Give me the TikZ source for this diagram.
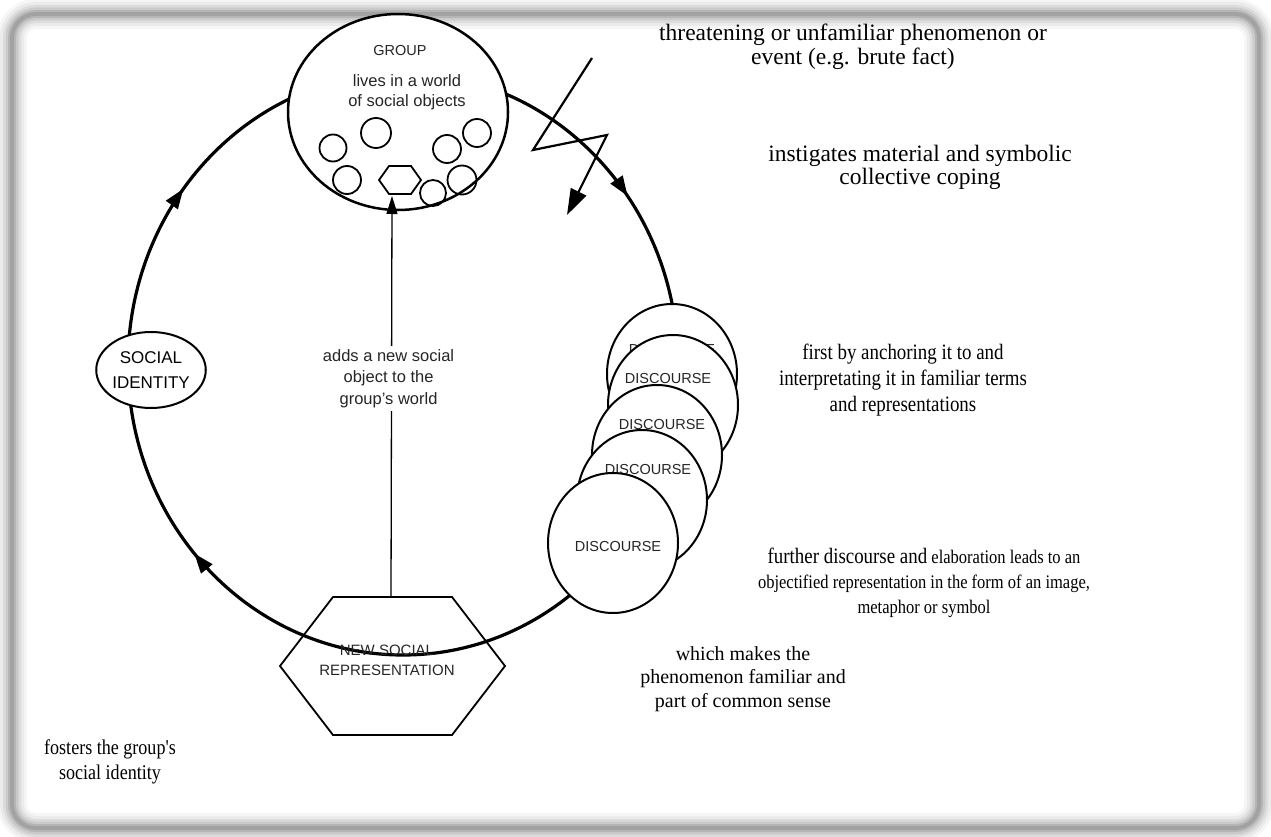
\documentclass[tikz,border=0pt]{standalone}
\usepackage{fontspec}
\setmainfont{Liberation Serif}
\setsansfont{Liberation Sans}
\newfontfamily\narrowserif[FakeStretch=0.86]{Liberation Serif}
\usetikzlibrary{shapes.geometric,arrows.meta,decorations.markings}

\tikzset{
  flowtip/.tip={Triangle[length=20pt,width=14pt]},
  bubble/.style={ellipse, draw, fill=white, line width=2pt, inner sep=0pt, align=center},
  objring/.style={circle, draw, line width=1.8pt, inner sep=0pt},
  tag/.style={align=center, inner sep=0pt, text=black!85, font=\sffamily\fontsize{16}{20}\selectfont},
  caption/.style={align=center, inner sep=0pt, font=\rmfamily\fontsize{23.5}{24}\selectfont},
  narrowcap/.style={align=center, inner sep=0pt, font=\narrowserif\fontsize{19.2}{25}\selectfont},
}

\begin{document}
\begin{tikzpicture}[x=1pt,y=-1pt]
\useasboundingbox (0,0) rectangle (1271,837);

% soft grey frame
\foreach \w/\o in {30/0.06,24/0.08,18/0.11,13/0.15,8/0.2,4/0.25}
  \draw[line width=\w pt, black!60, opacity=\o, rounded corners=24pt] (12,14) rectangle (1259,828);

% the cycle
\coordinate (hub) at (403,364);
\draw[line width=3.2pt, postaction={decorate}, decoration={markings,
    mark=at position 0.385 with {\arrow{flowtip}},
    mark=at position 0.605 with {\arrow{flowtip}},
    mark=at position 0.9 with {\arrow{flowtip}}}]
  (hub) ellipse [x radius=275, y radius=291];

% group and its world of social objects
\node[bubble, line width=2.5pt, minimum width=220pt, minimum height=196pt] (group) at (398,112) {};
\node[tag, font=\sffamily\fontsize{14.5}{16}\selectfont] (grouptitle) at (400,51) {GROUP};
\node[tag, font=\sffamily\fontsize{16.5}{20}\selectfont] (groupworld) at (407,92) {lives in a world\\of social objects};
\foreach \n/\x/\y/\d in {1/333/148/27, 2/376/133/30, 3/347/180/28, 4/447/149/28, 5/477/133/28, 6/462/180/29, 7/433/193/26}
  \node[objring, minimum size=\d pt] (obj\n) at (\x,\y) {};
\draw[line width=1.8pt] (379,180) -- (389,166) -- (411,166) -- (421,180) -- (411,194) -- (389,194) -- cycle;
\coordinate (newobj) at (392,196);

% social identity
\node[bubble, minimum width=102pt, minimum height=76pt, font=\sffamily\fontsize{17}{25}\selectfont] (identity) at (151,370) {SOCIAL\\IDENTITY};

% stacked discourse
\foreach \n/\cx/\cy/\tx/\ty in {1/672/374/672/350, 2/673/405/668/379, 3/657/455/662/425, 4/642/500/648/470, 5/613/543/618/547} {
  \node[bubble, minimum width=130pt, minimum height=140pt] (disc\n) at (\cx,\cy) {};
  \node[tag, font=\sffamily\fontsize{14.5}{16}\selectfont] (disctext\n) at (\tx,\ty) {DISCOURSE};
}

% new social representation
\draw[line width=1.8pt] (333,597) -- (452,597) -- (505,666) -- (452,735) -- (333,735) -- (280,666) -- cycle;
\coordinate (hexTop) at (391,597);
\node[tag, font=\sffamily\fontsize{15}{20}\selectfont] (newrep) at (387,660) {NEW SOCIAL\\REPRESENTATION};

% the new object joins the group's world
\draw[line width=1.3pt, -{Triangle[length=18pt,width=11pt]}] (hexTop) --
  node[tag, fill=white, inner sep=3pt, pos=0.545, xshift=-3pt, font=\sffamily\fontsize{16.5}{21.5}\selectfont] (addslabel) {adds a new social\\object to the\\group's world} (newobj);

% the disruptive event
\coordinate (boltA) at (592,58);
\coordinate (boltB) at (533,150);
\coordinate (boltC) at (607,135);
\coordinate (boltD) at (567,215);
\draw[line width=2.2pt, -{Triangle[length=26pt,width=17pt]}] (boltA) -- (boltB) -- (boltC) -- (boltD);

% commentary
\node[caption] (threat) at (853,47) {threatening or unfamiliar phenomenon or\\event (e.g. brute fact)};
\node[caption, font=\rmfamily\fontsize{23.5}{23}\selectfont] (coping) at (920,167) {instigates material and symbolic\\collective coping};
\node[narrowcap, font=\narrowserif\fontsize{22}{26}\selectfont] (anchor) at (903,380) {first by anchoring it to and\\interpretating it in familiar terms\\and representations};
\node[narrowcap] (objectify) at (924,583) {{\fontsize{22}{25}\selectfont further discourse and} elaboration leads to an\\objectified representation in the form of an image,\\metaphor or symbol};
\node[caption, font=\rmfamily\fontsize{20}{23.5}\selectfont] (familiar) at (743,679) {which makes the\\phenomenon familiar and\\part of common sense};
\node[narrowcap, font=\narrowserif\fontsize{21}{25}\selectfont] (identitycap) at (110,762) {fosters the group's\\social identity};
\end{tikzpicture}
\end{document}
